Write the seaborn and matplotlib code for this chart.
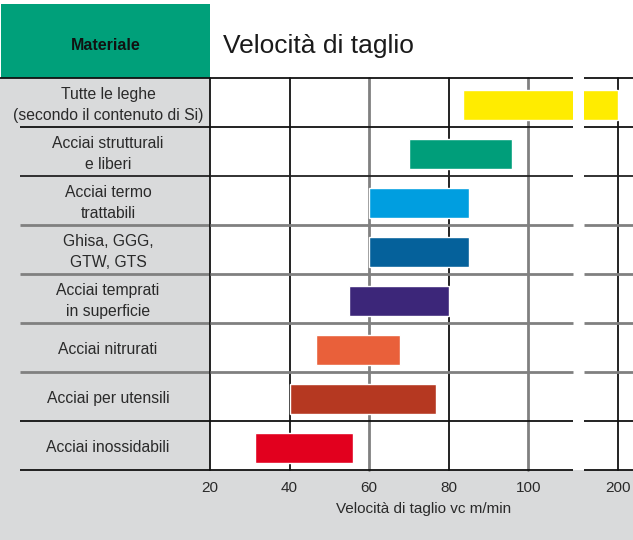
import matplotlib.pyplot as plt
import numpy as np
import seaborn as sns
from matplotlib.patches import Rectangle

# materials, top to bottom
materials = ['Tutte le leghe\n(secondo il contenuto di Si)', 'Acciai strutturali\ne liberi',
             'Acciai termo\ntrattabili', 'Ghisa, GGG,\nGTW, GTS', 'Acciai temprati\nin superficie',
             'Acciai nitrurati', 'Acciai per utensili', 'Acciai inossidabili']
vc_min = [83.5, 70, 60, 60, 55, 46.7, 40, 31.3]
vc_max = [200, 95.8, 85, 85, 80, 67.8, 76.7, 56]
colors = ['#ffec00', '#009e7a', '#009ee0', '#05619b', '#3c2679', '#e9603a', '#b53821', '#e2001e']
ticks_main = [20, 40, 60, 80, 100]
ticks_far = [200]

sns.set_style('white')
plt.rcParams['font.family'] = ['Liberation Sans', 'DejaVu Sans']

W, H = 633, 540
gray = '#d9dadb'
txt = '#2a2a2a'


def box(x0, y0, x1, y1):
    # pixel box -> figure fraction rect
    return [x0 / W, 1 - y1 / H, (x1 - x0) / W, (y1 - y0) / H]


fig = plt.figure(figsize=(W / 100, H / 100), dpi=100, facecolor='white')
fig.patches.append(Rectangle((0, 0), 210 / W, 1 - 78 / H, transform=fig.transFigure,
                             facecolor=gray, edgecolor='none', zorder=-5))
fig.patches.append(Rectangle((0, 0), 1, 70 / H, transform=fig.transFigure,
                             facecolor=gray, edgecolor='none', zorder=-5))
fig.patches.append(Rectangle((1 / W, 1 - 78 / H), 209 / W, 74 / H, transform=fig.transFigure,
                             facecolor='#00a07a', edgecolor='none', zorder=-5))

fig.text(106 / W, 1 - 45 / H, 'Materiale', ha='center', va='center',
         fontsize=11.5, fontweight='bold', color='#111111')
fig.text(223 / W, 1 - 46 / H, 'Velocità di taglio', ha='left', va='center',
         fontsize=19, color='#1a1a1a')

n = len(materials)
pos = np.arange(n)
bounds = np.arange(n + 1) - 0.5
shift = 0.05  # bars and labels sit a little below the row middle
row_styles = [('#111111', 1.3), ('#111111', 1.3), ('#222222', 1.3), ('#808080', 2.0),
              ('#808080', 2.0), ('#808080', 2.0), ('#808080', 2.0), ('#111111', 1.3),
              ('#111111', 1.3)]

# label column
ax0 = fig.add_axes(box(0, 78, 210, 470))
ax0.set_xlim(0, 210)
ax0.set_ylim(n - 0.5, -0.5)
ax0.axis('off')
for i, label in enumerate(materials):
    ax0.text(108, pos[i] + shift, label, ha='center', va='center', fontsize=11.3,
             color=txt, linespacing=1.45)
for b, (c, lw) in zip(bounds, row_styles):
    ax0.plot([0 if b < 0 else 20, 210], [b, b], color=c, lw=lw, clip_on=False,
             solid_capstyle='butt')

# broken velocity axis
ax1 = fig.add_axes(box(210, 78, 573, 470))
ax2 = fig.add_axes(box(584, 78, 633, 470))
ax1.set_xlim(20, 111.2)
ax2.set_xlim(191.3, 203.7)

vline_styles = {20: ('#111111', 1.3), 40: ('#111111', 1.3), 60: ('#808080', 2.0),
                80: ('#111111', 1.3), 100: ('#808080', 2.0), 200: ('#111111', 1.3)}

for ax, ticks in [(ax1, ticks_main), (ax2, ticks_far)]:
    ax.barh(pos + shift, np.array(vc_max) - np.array(vc_min), left=vc_min, height=0.63,
            color=colors, zorder=3)
    ax.set_ylim(n - 0.5, -0.5)
    ax.set_facecolor('white')
    for s in ax.spines.values():
        s.set_visible(False)
    ax.set_yticks([])
    ax.set_xticks(ticks)
    ax.set_xticklabels([str(t) for t in ticks])
    ax.tick_params(axis='x', length=0, pad=8, labelsize=11, labelcolor=txt)
    for t in ticks:
        c, lw = vline_styles[t]
        ax.axvline(t, color=c, lw=lw, zorder=2, clip_on=False)
    for b, (c, lw) in zip(bounds, row_styles):
        ax.axhline(b, color=c, lw=lw, zorder=4, clip_on=False, solid_capstyle='butt')

fig.text(424 / W, 1 - 509 / H, 'Velocità di taglio vc m/min', ha='center', va='center',
         fontsize=11, color=txt)

plt.savefig('out.png', dpi=100, facecolor=fig.get_facecolor())
